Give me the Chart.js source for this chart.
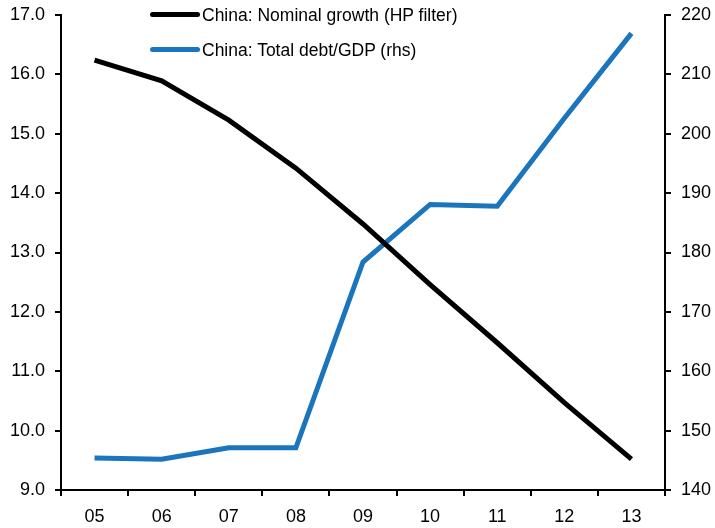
<!DOCTYPE html>
<html>
<head>
<meta charset="utf-8">
<script src="https://cdn.jsdelivr.net/npm/chart.js@4"></script>
<style>
  body { margin: 0; background: #fff; }
  #wrap { position: relative; width: 715px; height: 528px; }
  .leg { position: absolute; left: 150px; font: 17.5px/20px "Liberation Sans", Arial, sans-serif; color: #000; white-space: nowrap; }
  .leg span { display: inline-block; width: 50px; height: 5px; border-radius: 3px; vertical-align: middle; margin-right: 2px; position: relative; top: -2px; }
</style>
</head>
<body>
<div id="wrap">
  <canvas id="chart" width="715" height="528"></canvas>
  <div class="leg" style="top:5px"><span style="background:#000"></span>China: Nominal growth (HP filter)</div>
  <div class="leg" style="top:40px"><span style="background:#1a75bd"></span>China: Total debt/GDP (rhs)</div>
</div>
<script>
// years on the x axis
var years = ["05", "06", "07", "08", "09", "10", "11", "12", "13"];
// nominal growth, HP filtered (lhs, %)
var nominalGrowth = [16.24, 15.89, 15.23, 14.42, 13.48, 12.46, 11.48, 10.47, 9.52];
// total debt / GDP (rhs, %)
var debtToGdp = [145.4, 145.2, 147.1, 147.1, 178.4, 188.1, 187.8, 202.6, 216.9];

var tickFont = { family: "'Liberation Sans', Arial, sans-serif", size: 18 };

var chart = new Chart(document.getElementById("chart"), {
  type: 'line',
  data: {
    labels: years,
    datasets: [{
      label: "China: Nominal growth (HP filter)",
      data: nominalGrowth,
      borderColor: "#000000",
      borderWidth: 5,
      pointRadius: 0,
      yAxisID: 'y',
      tension: 0
    }, {
      label: "China: Total debt/GDP (rhs)",
      data: debtToGdp,
      borderColor: "#1a75bd",
      borderWidth: 5,
      pointRadius: 0,
      yAxisID: 'y2',
      tension: 0
    }]
  },
  options: {
    responsive: false,
    animation: false,
    layout: { padding: { top: 15, left: 0, right: 0, bottom: 0 } },
    plugins: { legend: { display: false }, tooltip: { enabled: false } },
    scales: {
      x: {
        offset: true,
        grid: { display: true, drawOnChartArea: false, offset: true, tickLength: 6, color: '#000', lineWidth: 2 },
        border: { display: true, color: '#000', width: 2 },
        ticks: { color: '#000', font: tickFont, padding: 10, maxRotation: 0 },
        afterFit: function (s) { s.height = 38; s.paddingLeft = 0; s.paddingRight = 0; }
      },
      y: {
        position: 'left',
        min: 9, max: 17,
        grid: { display: true, drawOnChartArea: false, tickLength: 6, color: '#000', lineWidth: 2 },
        border: { display: true, color: '#000', width: 2 },
        ticks: { color: '#000', font: tickFont, stepSize: 1, padding: 10,
          callback: function (v) { return v.toFixed(1); } },
        afterFit: function (s) { s.width = 61; s.paddingTop = 0; s.paddingBottom = 0; }
      },
      y2: {
        position: 'right',
        min: 140, max: 220,
        grid: { display: true, drawOnChartArea: false, tickLength: 6, color: '#000', lineWidth: 2 },
        border: { display: true, color: '#000', width: 2 },
        ticks: { color: '#000', font: tickFont, stepSize: 10, padding: 10 },
        afterFit: function (s) { s.width = 50; s.paddingTop = 0; s.paddingBottom = 0; }
      }
    }
  }
});
</script>
</body>
</html>
